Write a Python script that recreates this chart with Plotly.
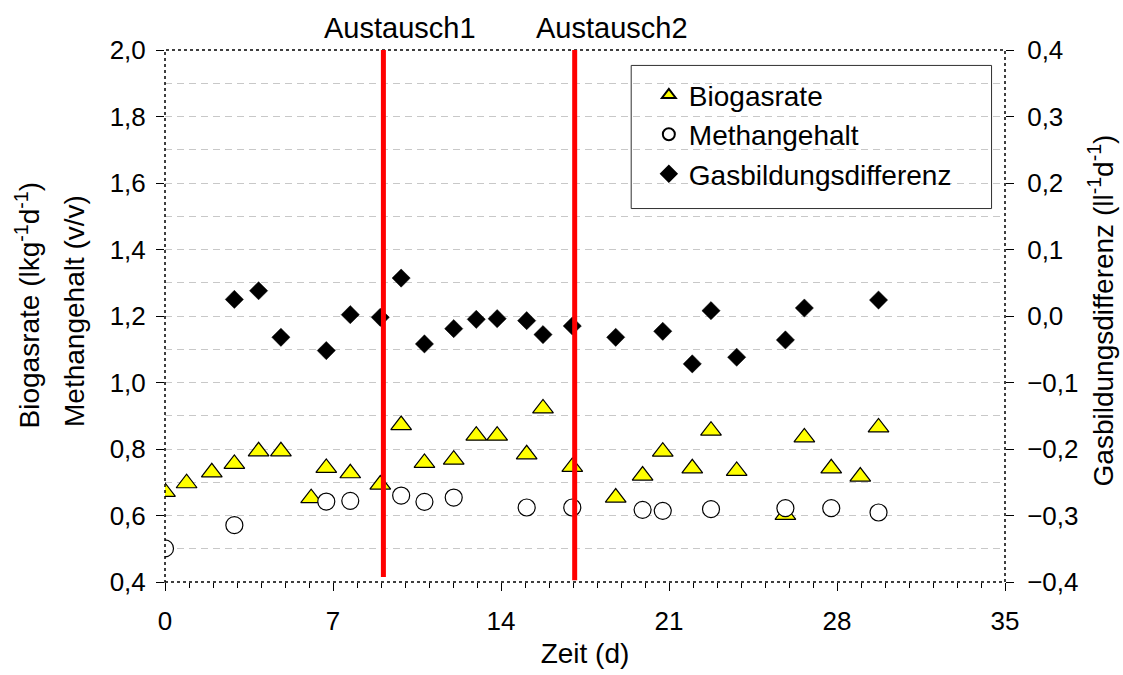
import plotly.graph_objects as go

# Zeitpunkte (d) und Messwerte
zeit_biogas = [0.0, 0.9, 1.95, 2.89, 3.9, 4.83, 6.09, 6.72, 7.72, 8.97, 9.84, 10.81,
               12.03, 12.97, 13.84, 15.07, 15.75, 16.97, 18.78, 19.9, 20.74, 21.97,
               22.75, 23.82, 25.85, 26.64, 27.76, 28.97, 29.73]
biogasrate = [0.671, 0.697, 0.730, 0.755, 0.793, 0.793, 0.652, 0.743, 0.727, 0.693,
              0.872, 0.758, 0.768, 0.840, 0.840, 0.784, 0.922, 0.746, 0.654, 0.720,
              0.792, 0.742, 0.855, 0.734, 0.602, 0.835, 0.742, 0.717, 0.865]

zeit_methan = [0.0, 2.89, 6.72, 7.72, 9.84, 10.81, 12.03, 15.07, 16.97, 19.9, 20.74,
               22.75, 25.85, 27.76, 29.73]
methangehalt = [0.501, 0.571, 0.642, 0.644, 0.660, 0.641, 0.654, 0.624, 0.624, 0.617,
                0.614, 0.619, 0.622, 0.622, 0.609]

zeit_diff = [2.89, 3.9, 4.83, 6.72, 7.72, 8.97, 9.84, 10.81, 12.03, 12.97, 13.84,
             15.07, 15.75, 16.97, 18.78, 20.74, 21.97, 22.75, 23.82, 25.85, 26.64, 29.73]
gasbildungsdifferenz = [0.025, 0.038, -0.032, -0.052, 0.002, -0.002, 0.057, -0.042,
                        -0.019, -0.005, -0.004, -0.007, -0.028, -0.015, -0.032, -0.023,
                        -0.072, 0.008, -0.062, -0.036, 0.012, 0.024]

# Austausch-Zeitpunkte
austausch_zeit = [9.1, 17.07]
austausch_text = ["Austausch1", "Austausch2"]
austausch_unten = [0.415, 0.405]

FONT = "Liberation Sans, Arial, sans-serif"

fig = go.Figure()

fig.add_trace(go.Scatter(
    x=zeit_biogas, y=biogasrate, mode="markers", name="Biogasrate",
    legendgroup="a",
    marker=dict(symbol="triangle-up", size=18, color="#ffff00",
                line=dict(color="black", width=1.2)),
))
fig.add_trace(go.Scatter(
    x=zeit_methan, y=methangehalt, mode="markers", name="Methangehalt",
    legendgroup="b",
    marker=dict(symbol="circle", size=17, color="white",
                line=dict(color="black", width=1.2)),
))
fig.add_trace(go.Scatter(
    x=zeit_diff, y=gasbildungsdifferenz, mode="markers", name="Gasbildungsdifferenz",
    legendgroup="c", yaxis="y2",
    marker=dict(symbol="diamond", size=14, color="black",
                line=dict(color="black", width=0.5)),
))

shapes = []
# gepunkteter Rahmen um den Plotbereich
shapes.append(dict(type="rect", xref="paper", yref="paper", x0=0, x1=1, y0=0, y1=1,
                   line=dict(color="black", width=1.5, dash="dot"), layer="above"))
# Legendenrahmen
shapes.append(dict(type="rect", xref="paper", yref="paper",
                   x0=0.555, x1=0.984, y0=0.702, y1=0.971,
                   line=dict(color="#303030", width=1), fillcolor="white", layer="below"))
# rote Markierungslinien
for xz, yu in zip(austausch_zeit, austausch_unten):
    shapes.append(dict(type="line", xref="x", yref="y", x0=xz, x1=xz, y0=yu, y1=2.0,
                       line=dict(color="#ff0000", width=5), layer="above"))

annotations = []
for xz, txt, sh in zip(austausch_zeit, austausch_text, [17, 37]):
    annotations.append(dict(x=xz, y=1, xref="x", yref="paper", text=txt,
                            showarrow=False, xanchor="center", yanchor="bottom",
                            xshift=sh, yshift=4, font=dict(size=29, color="black")))
# linke Achsentitel (zweizeilig)
annotations.append(dict(x=-0.163, y=0.52, xref="paper", yref="paper",
                        text="Biogasrate (lkg<sup>-1</sup>d<sup>-1</sup>)",
                        textangle=-90, showarrow=False, xanchor="center", yanchor="middle",
                        font=dict(size=28, color="black")))
annotations.append(dict(x=-0.108, y=0.51, xref="paper", yref="paper",
                        text="Methangehalt (v/v)",
                        textangle=-90, showarrow=False, xanchor="center", yanchor="middle",
                        font=dict(size=28, color="black")))
# rechter Achsentitel
annotations.append(dict(x=1.114, y=0.51, xref="paper", yref="paper",
                        text="Gasbildungsdifferenz (ll<sup>-1</sup>d<sup>-1</sup>)",
                        textangle=-90, showarrow=False, xanchor="center", yanchor="middle",
                        font=dict(size=28, color="black")))

grid_style = dict(gridcolor="#c8c8c8", griddash="7px,5px", gridwidth=1)

fig.update_layout(
    width=1123, height=675,
    margin=dict(l=165, r=118, t=50, b=93),
    paper_bgcolor="white", plot_bgcolor="white",
    font=dict(family=FONT, color="black", size=26),
    separators=",.",
    showlegend=True,
    legend=dict(x=0.576, y=0.962, xanchor="left", yanchor="top",
                bgcolor="rgba(0,0,0,0)", borderwidth=0,
                font=dict(size=28), tracegroupgap=5, traceorder="normal",
                itemsizing="constant", itemwidth=30),
    xaxis=dict(range=[0, 35], dtick=7, tick0=0, showgrid=False, zeroline=False,
               showline=False, ticks="outside", ticklen=8, tickcolor="black",
               tickfont=dict(size=26), ticklabelstandoff=8,
               minor=dict(dtick=1, ticks="outside", ticklen=5, tickcolor="black",
                          showgrid=False),
               title=dict(text="Zeit (d)", font=dict(size=28), standoff=8)),
    yaxis=dict(range=[0.4, 2.0], dtick=0.2, tick0=0.4, tickformat=".1f",
               showgrid=True, zeroline=False, showline=False,
               ticks="outside", ticklen=8, tickcolor="black",
               tickfont=dict(size=26), ticklabelstandoff=5,
               minor=dict(dtick=0.1, showgrid=True, **grid_style),
               **grid_style),
    yaxis2=dict(range=[-0.4, 0.4], dtick=0.1, tick0=-0.4, tickformat=".1f",
                overlaying="y", side="right", showgrid=False, zeroline=False,
                showline=False, ticks="outside", ticklen=8, tickcolor="black",
                tickfont=dict(size=26), ticklabelstandoff=8),
    shapes=shapes,
    annotations=annotations,
)

fig.write_html("out.html")
